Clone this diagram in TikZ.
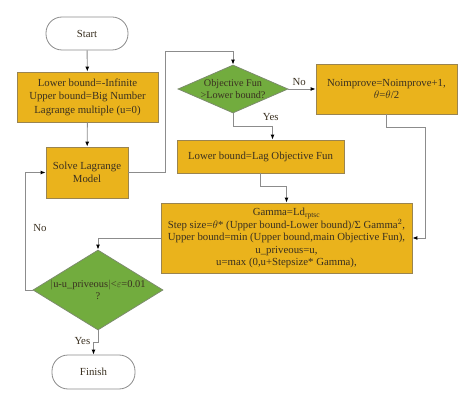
\documentclass[tikz,border=0pt]{standalone}
\usepackage{fontspec}
\setmainfont{Liberation Serif}
\usetikzlibrary{shapes.geometric,arrows.meta}
\definecolor{boxfill}{HTML}{EAB31C}
\definecolor{boxline}{HTML}{9A8450}
\definecolor{decfill}{HTML}{72AC3E}
\definecolor{decline}{HTML}{7C8C6C}
\definecolor{wire}{HTML}{8C8C8C}
\definecolor{ink}{HTML}{3A3020}
\begin{document}
\begin{tikzpicture}[x=1pt,y=-1pt,>={Latex[length=5pt,width=4pt,color=black]},
  font=\fontsize{10.8}{12.5}\selectfont,text=ink,
  term/.style={draw=wire,fill=white,rounded corners=16pt,minimum width=82pt,minimum height=33pt,line width=.8pt},
  procbox/.style={draw=boxline,fill=boxfill,align=center,inner sep=2pt,line width=.8pt},
  decide/.style={diamond,draw=decline,fill=decfill,align=center,inner sep=0pt,line width=.8pt},
  wireline/.style={draw=wire,line width=.9pt}]
\useasboundingbox (0,0) rectangle (474,406);
\node[term] (start) at (87,33.5) {Start};
\node[procbox,minimum width=141pt,minimum height=50pt,font=\fontsize{10.8}{13.5}\selectfont] (init) at (87.5,97)
  {Lower bound=-Infinite\\Upper bound=Big Number\\Lagrange multiple (u=0)};
\node[procbox,minimum width=82pt,minimum height=51pt] (solve) at (87,172.5) {Solve Lagrange\\Model};
\node[decide,minimum width=110pt,minimum height=48pt,aspect=2.3,font=\fontsize{10.2}{12}\selectfont] (obj) at (233,89) {Objective Fun\\>Lower bound?};
\node[procbox,minimum width=141pt,minimum height=50pt] (noimp) at (386.5,89) {Noimprove=Noimprove+1,\\$\theta$=$\theta$/2};
\node[procbox,minimum width=167pt,minimum height=33pt] (lower) at (260.5,156.5) {Lower bound=Lag Objective Fun};
\node[procbox,minimum width=251pt,minimum height=70pt] (gamma) at (286.5,238)
  {Gamma=Ld$_{\mathrm{rptsc}}$\\Step size=$\theta$* (Upper bound-Lower bound)/Σ Gamma$^2$,\\
   Upper bound=min (Upper bound,main Objective Fun),\\u\_priveous=u,\\u=max (0,u+Stepsize* Gamma),};
\node[decide,minimum width=130pt,minimum height=80pt,aspect=1.6,font=\fontsize{10.4}{12}\selectfont] (stop) at (98,290) {$|$u-u\_priveous$|$<$\varepsilon$=0.01\\?};
\node[term,minimum width=83pt,minimum height=34pt] (finish) at (93.5,372) {Finish};
\coordinate (up) at (165,51);
% connectors
\draw[wireline,->] (start) -- (init);
\draw[wireline,->] (init) -- (solve);
\draw[wireline,->] (solve.east) -| (up) -| (obj.north);
\draw[wireline,->] (obj.east) -- node[above,pos=.4]{No} (noimp.west);
\draw[wireline,->] (obj.south) -- ++(0,13) node[right,pos=.3,xshift=26pt]{Yes} -| ([xshift=12pt]lower.north);
\draw[wireline,->] (lower.south) -- ++(0,13) -| (gamma.north);
\draw[wireline,->] (noimp.south) -- ++(0,13) -| ([xshift=13pt]gamma.east) -- (gamma.east);
\draw[wireline,->] (gamma.west) -| (stop.north);
\draw[wireline,->] (stop.west) -- ++(-7,0) |- (solve.west);
\node at (40,228) {No};
\draw[wireline,->] (stop.south) -- ++(0,12) node[left,pos=.9,xshift=-4pt]{Yes} -| (finish.north);
\end{tikzpicture}
\end{document}
